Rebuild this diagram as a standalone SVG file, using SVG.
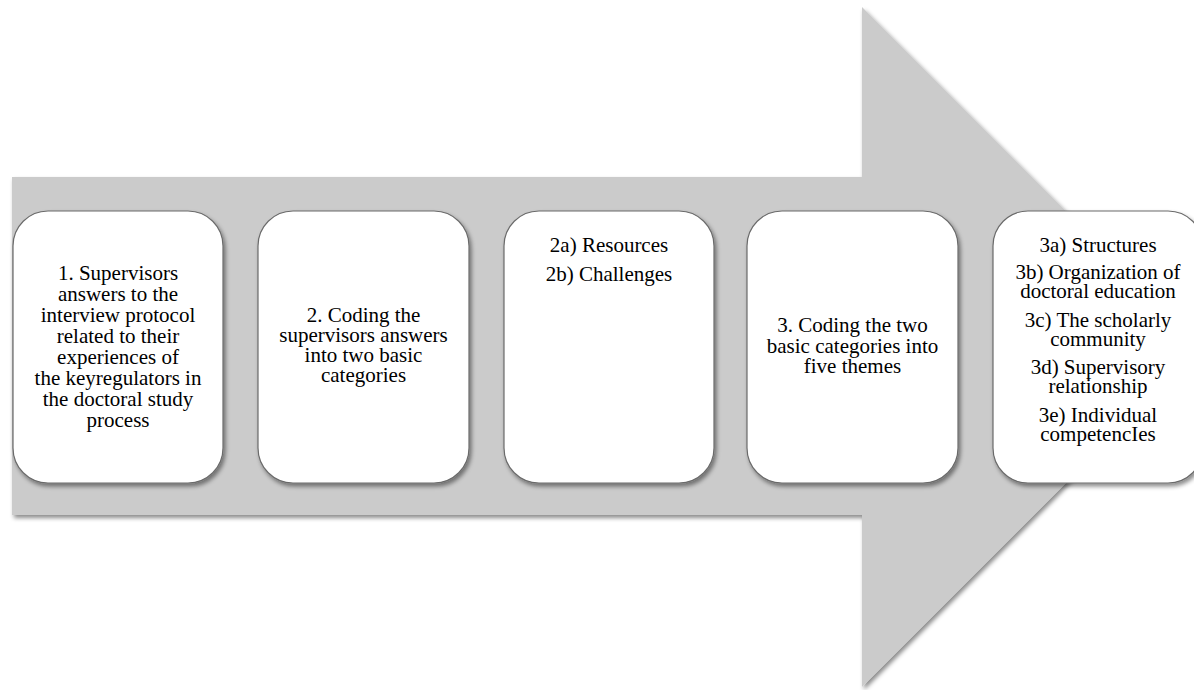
<svg xmlns="http://www.w3.org/2000/svg" width="1194" height="690" viewBox="0 0 1194 690">
<style>
.node rect{fill:#ffffff;stroke:#6b6b6b;stroke-width:1.2;filter:url(#sh)}
.node text{font-size:21px;fill:#000000;text-anchor:middle}
</style>
<defs>
<filter id="sh" x="-10%" y="-10%" width="130%" height="130%">
<feDropShadow dx="2" dy="3" stdDeviation="2" flood-color="#000" flood-opacity="0.45"/>
</filter>
</defs>
<rect width="1194" height="690" fill="#ffffff"/>
<g id="arrow">
<polygon points="12,177 862,177 862,7 1202,347 862,687 862,515 12,515" fill="#cbcbcb" filter="url(#sh)"/>
</g>
<g id="connectors"></g>
<g font-family="'Liberation Serif', 'Times New Roman', 'DejaVu Serif', serif">
<g id="n1" class="node">
<rect x="13" y="211" width="210" height="272" rx="35" ry="35"/>
<text x="118" y="280">1. Supervisors</text>
<text x="118" y="301">answers to the</text>
<text x="118" y="322">interview protocol</text>
<text x="118" y="343">related to their</text>
<text x="118" y="364">experiences of</text>
<text x="118" y="385">the keyregulators in</text>
<text x="118" y="406">the doctoral study</text>
<text x="118" y="427">process</text>
</g>
<g id="n2" class="node">
<rect x="258" y="211" width="211" height="272" rx="35" ry="35"/>
<text x="363.5" y="322">2. Coding the</text>
<text x="363.5" y="342">supervisors answers</text>
<text x="363.5" y="362">into two basic</text>
<text x="363.5" y="382">categories</text>
</g>
<g id="n3" class="node">
<rect x="504" y="211" width="210" height="272" rx="35" ry="35"/>
<text x="609" y="252">2a) Resources</text>
<text x="609" y="281">2b) Challenges</text>
</g>
<g id="n4" class="node">
<rect x="747" y="211" width="211" height="272" rx="35" ry="35"/>
<text x="852.5" y="332">3. Coding the two</text>
<text x="852.5" y="353">basic categories into</text>
<text x="852.5" y="373">five themes</text>
</g>
<g id="n5" class="node">
<rect x="993" y="211" width="210" height="272" rx="35" ry="35"/>
<text x="1098" y="252">3a) Structures</text>
<text x="1098" y="279">3b) Organization of</text>
<text x="1098" y="298">doctoral education</text>
<text x="1098" y="327">3c) The scholarly</text>
<text x="1098" y="346">community</text>
<text x="1098" y="374">3d) Supervisory</text>
<text x="1098" y="393">relationship</text>
<text x="1098" y="422">3e) Individual</text>
<text x="1098" y="441">competencIes</text>
</g>
</g>
</svg>
